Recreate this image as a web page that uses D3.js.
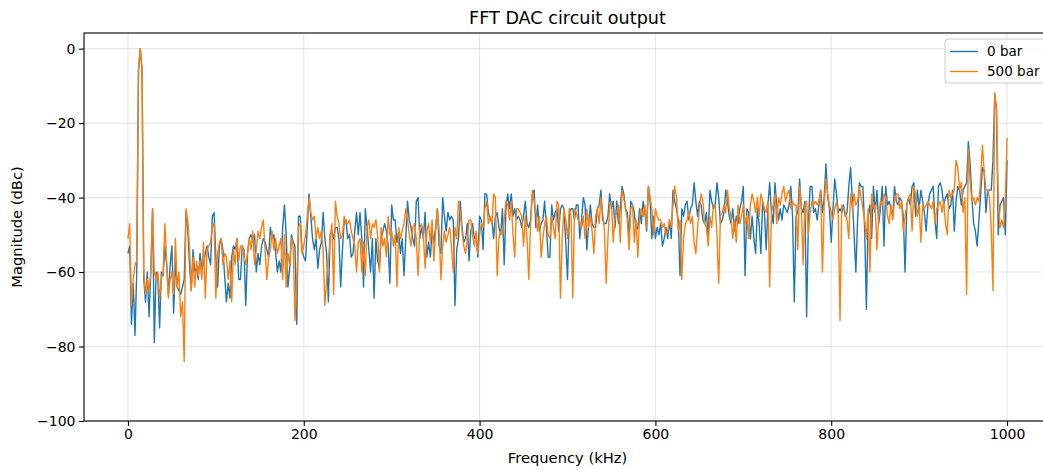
<!DOCTYPE html>
<html>
<head>
<meta charset="utf-8">
<script src="https://cdn.jsdelivr.net/npm/d3@7"></script>
<style>
  html, body { margin: 0; padding: 0; background: #fff; }
  svg { display: block; font-family: "DejaVu Sans", sans-serif; }
</style>
</head>
<body>
<svg id="chart" width="1043" height="470"></svg>
<script>
// FFT bins: 0 to 1000 kHz in 2 kHz steps
const binStepKHz = 2;

// Magnitude (dBc) at 0 bar
const mag0bar = [
  // 0–80 kHz
  -55,-53,-74,-63,-77,-60,-6,0,-6,-62,-68,-60,-72,-60,-43,-79,-60,-61,-75,-60,
  -61,-53,-58,-66,-58,-53,-71,-57,-64,-65,-66,-64,-62,-44,-48,-58,-65,-54,-60,-59,-62,
  // 82–172 kHz
  -55,-59,-58,-55,-53,-56,-58,-45,-44,-56,-64,-53,-51,-54,-61,-68,-63,-67,-56,-53,
  -54,-51,-62,-62,-53,-54,-69,-55,-51,-50,-52,-50,-60,-55,-58,-53,-51,-52,-54,-56,
  -48,-51,-50,-55,-60,-57,
  // 174–262 kHz
  -60,-48,-42,-50,-64,-59,-50,-52,-53,-74,-45,-45,-54,-56,-57,-48,-39,-45,-51,-54,
  -51,-59,-54,-52,-44,-51,-55,-68,-50,-49,-51,-48,-48,-51,-64,-54,-46,-46,-51,-50,
  -56,-55,-49,-44,-50,
  // 264–354 kHz
  -44,-51,-64,-43,-48,-54,-60,-51,-67,-51,-57,-59,-51,-49,-47,-49,-53,-63,-42,-46,
  -46,-52,-49,-55,-51,-61,-51,-41,-46,-48,-51,-53,-41,-40,-51,-48,-51,-44,-56,-52,
  -56,-49,-52,-48,-43,-53,
  // 356–444 kHz
  -55,-40,-45,-49,-44,-46,-45,-46,-69,-54,-51,-41,-48,-52,-51,-47,-57,-49,-47,-51,
  -50,-56,-45,-46,-54,-39,-39,-44,-46,-46,-51,-45,-44,-48,-50,-43,-58,-43,-39,-43,
  -39,-45,-43,-46,-45,
  // 446–536 kHz
  -46,-48,-45,-41,-47,-48,-46,-39,-38,-48,-42,-49,-47,-46,-41,-48,-56,-56,-42,-46,
  -44,-43,-49,-43,-42,-43,-52,-62,-45,-43,-43,-46,-42,-42,-51,-46,-40,-42,-54,-47,
  -42,-47,-48,-48,-43,-42,
  // 538–626 kHz
  -38,-46,-47,-47,-45,-39,-43,-41,-48,-41,-47,-43,-37,-39,-43,-44,-50,-41,-42,-44,
  -49,-48,-43,-47,-41,-44,-49,-37,-41,-51,-45,-51,-48,-50,-47,-53,-51,-48,-51,-46,
  -51,-38,-41,-43,-46,
  // 628–718 kHz
  -61,-43,-45,-42,-41,-46,-43,-42,-36,-41,-45,-41,-42,-46,-47,-44,-51,-38,-41,-43,
  -42,-36,-40,-47,-46,-44,-38,-41,-45,-47,-43,-49,-45,-47,-43,-41,-37,-61,-43,-44,
  -51,-45,-51,-55,-43,-47,
  // 720–810 kHz
  -55,-41,-44,-54,-42,-36,-44,-47,-36,-42,-46,-43,-46,-42,-43,-44,-42,-37,-45,-68,
  -45,-44,-35,-43,-44,-41,-72,-47,-37,-37,-44,-43,-46,-42,-38,-44,-40,-31,-40,-43,
  -52,-43,-35,-39,-44,-43,
  // 812–900 kHz
  -44,-42,-45,-44,-37,-32,-40,-50,-60,-46,-36,-37,-37,-48,-70,-45,-42,-51,-37,-44,
  -38,-47,-43,-37,-53,-37,-42,-41,-43,-45,-37,-41,-42,-40,-41,-45,-60,-42,-40,-42,
  -37,-36,-45,-38,-43,
  // 902–1000 kHz
  -38,-41,-44,-49,-42,-39,-38,-37,-46,-51,-37,-36,-38,-42,-40,-39,-43,-42,-38,-49,
  -41,-37,-38,-42,-38,-37,-36,-25,-31,-40,-47,-49,-53,-46,-39,-32,-33,-44,-38,-38,
  -38,-30,-12,-16,-50,-42,-41,-40,-50,-30
];

// Magnitude (dBc) at 500 bar
const mag500bar = [
  // 0–80 kHz
  -51,-47,-69,-62,-58,-57,-5,0,-5,-60,-66,-62,-65,-60,-43,-60,-62,-60,-67,-62,
  -60,-47,-57,-67,-62,-60,-66,-51,-64,-60,-72,-68,-84,-43,-46,-53,-65,-56,-64,-57,-61,
  // 82–172 kHz
  -57,-62,-52,-67,-54,-53,-52,-48,-47,-67,-55,-52,-51,-58,-55,-56,-62,-57,-68,-54,
  -58,-51,-57,-53,-53,-56,-58,-55,-51,-54,-49,-58,-54,-49,-51,-48,-46,-54,-62,-56,
  -54,-49,-54,-51,-55,-53,
  // 174–262 kHz
  -51,-62,-50,-64,-55,-58,-51,-53,-73,-64,-48,-47,-55,-53,-50,-45,-40,-44,-46,-45,
  -51,-48,-51,-49,-54,-69,-62,-57,-51,-47,-66,-41,-45,-47,-51,-50,-45,-47,-47,-46,
  -49,-51,-53,-60,-52,
  // 264–354 kHz
  -51,-60,-52,-61,-48,-46,-51,-47,-48,-46,-50,-60,-48,-53,-51,-56,-45,-50,-49,-53,
  -50,-64,-48,-51,-49,-47,-43,-46,-50,-53,-48,-47,-51,-61,-48,-47,-50,-59,-49,-47,
  -52,-46,-57,-49,-43,-49,
  // 356–444 kHz
  -62,-53,-49,-52,-50,-48,-53,-60,-48,-51,-41,-44,-49,-53,-55,-51,-46,-46,-50,-53,
  -49,-55,-50,-47,-48,-43,-41,-47,-45,-47,-39,-40,-61,-51,-49,-50,-46,-41,-42,-46,
  -41,-50,-56,-43,-43,
  // 446–536 kHz
  -44,-45,-53,-45,-51,-62,-47,-38,-41,-44,-49,-45,-56,-51,-47,-45,-50,-51,-45,-48,
  -51,-41,-42,-67,-51,-43,-46,-51,-43,-45,-67,-43,-44,-46,-47,-48,-45,-51,-43,-48,
  -45,-49,-55,-45,-43,-47,
  // 538–626 kHz
  -40,-44,-49,-63,-51,-42,-41,-52,-45,-44,-42,-52,-38,-40,-43,-46,-54,-43,-42,-52,
  -46,-56,-45,-43,-45,-42,-48,-37,-40,-43,-50,-43,-45,-46,-46,-48,-47,-50,-49,-46,
  -48,-42,-37,-40,-49,
  // 628–718 kHz
  -46,-62,-51,-47,-46,-44,-47,-45,-52,-55,-48,-43,-39,-41,-47,-48,-53,-45,-48,-42,
  -42,-50,-63,-45,-44,-42,-44,-38,-43,-45,-51,-46,-52,-42,-47,-45,-42,-47,-45,-51,
  -42,-39,-41,-44,-40,-45,
  // 720–810 kHz
  -39,-41,-43,-44,-41,-64,-44,-42,-39,-47,-40,-42,-39,-37,-41,-39,-38,-43,-41,-42,
  -42,-54,-37,-42,-58,-42,-41,-50,-44,-41,-42,-41,-42,-41,-38,-60,-42,-35,-39,-42,
  -44,-46,-43,-41,-45,-73,
  // 812–900 kHz
  -42,-43,-44,-46,-51,-39,-43,-39,-42,-41,-37,-40,-43,-46,-51,-43,-60,-39,-43,-42,
  -54,-45,-41,-42,-39,-40,-45,-47,-42,-46,-41,-39,-39,-43,-41,-49,-45,-42,-40,-39,
  -49,-37,-39,-45,-42,
  // 902–1000 kHz
  -52,-42,-43,-42,-41,-42,-43,-41,-47,-43,-42,-41,-44,-41,-47,-50,-38,-40,-39,-38,
  -30,-32,-38,-36,-44,-40,-66,-27,-36,-41,-40,-42,-40,-41,-35,-26,-33,-38,-38,-40,
  -48,-65,-12,-17,-40,-48,-46,-48,-41,-24
];

const seriesNames = ["0 bar", "500 bar"];
const seriesColors = ["#1f77b4", "#ff7f0e"];
const xTicks = [0, 200, 400, 600, 800, 1000];
const yTicks = [0, -20, -40, -60, -80, -100];

const svg = d3.select("#chart");
const margin = { left: 84, top: 33, right: 1051, bottom: 421 };

const x = d3.scaleLinear().domain([-50, 1050]).range([margin.left, margin.right]);
const y = d3.scaleLinear().domain([-100, 4.2]).range([margin.bottom, margin.top]);

// clip region for the plot area
svg.append("defs").append("clipPath").attr("id", "plot-clip")
  .append("rect")
  .attr("x", margin.left).attr("y", margin.top)
  .attr("width", margin.right - margin.left)
  .attr("height", margin.bottom - margin.top);

// grid
const grid = svg.append("g");
grid.selectAll("line.gx").data(xTicks).join("line")
  .attr("x1", d => x(d)).attr("x2", d => x(d))
  .attr("y1", margin.top).attr("y2", margin.bottom)
  .attr("stroke", "#b0b0b0").attr("stroke-opacity", 0.3).attr("stroke-width", 1.1);
grid.selectAll("line.gy").data(yTicks).join("line")
  .attr("y1", d => y(d)).attr("y2", d => y(d))
  .attr("x1", margin.left).attr("x2", margin.right)
  .attr("stroke", "#b0b0b0").attr("stroke-opacity", 0.3).attr("stroke-width", 1.1);

// series
const series = [mag0bar, mag500bar];
const line = d3.line()
  .x((d, i) => x(i * binStepKHz))
  .y(d => y(d));

const plot = svg.append("g").attr("clip-path", "url(#plot-clip)");
series.forEach((vals, k) => {
  plot.append("path")
    .datum(vals)
    .attr("fill", "none")
    .attr("stroke", seriesColors[k])
    .attr("stroke-width", 1.4)
    .attr("stroke-linejoin", "round")
    .attr("d", line);
});

// axes
const fmt = d => d < 0 ? "\u2212" + Math.abs(d) : String(d);
const xAxis = svg.append("g")
  .attr("transform", `translate(0,${margin.bottom})`)
  .call(d3.axisBottom(x).tickValues(xTicks).tickFormat(fmt).tickSize(4.9).tickSizeOuter(0));
const yAxis = svg.append("g")
  .attr("transform", `translate(${margin.left},0)`)
  .call(d3.axisLeft(y).tickValues(yTicks).tickFormat(fmt).tickSize(4.9).tickSizeOuter(0));

[xAxis, yAxis].forEach(g => {
  g.select(".domain").remove();
  g.selectAll(".tick line").attr("stroke", "#000").attr("stroke-width", 1.1);
  g.selectAll(".tick text").attr("fill", "#000")
    .style("font-size", "14px").style("font-family", "'DejaVu Sans', sans-serif");
});
xAxis.selectAll(".tick text").attr("dy", "0.71em").attr("y", 8.5);
yAxis.selectAll(".tick text").attr("x", -8.5);

// spines
svg.append("rect")
  .attr("x", margin.left).attr("y", margin.top)
  .attr("width", margin.right - margin.left)
  .attr("height", margin.bottom - margin.top)
  .attr("fill", "none").attr("stroke", "#000").attr("stroke-width", 1.1);

// title and axis labels
svg.append("text")
  .attr("x", (margin.left + margin.right) / 2).attr("y", 24)
  .attr("text-anchor", "middle")
  .style("font-size", "17.6px")
  .text("FFT DAC circuit output");

svg.append("text")
  .attr("x", (margin.left + margin.right) / 2).attr("y", 463)
  .attr("text-anchor", "middle")
  .style("font-size", "14.7px")
  .text("Frequency (kHz)");

svg.append("text")
  .attr("transform", `translate(22,${(margin.top + margin.bottom) / 2}) rotate(-90)`)
  .attr("text-anchor", "middle")
  .style("font-size", "14.7px")
  .text("Magnitude (dBc)");

// legend
const legend = svg.append("g").attr("transform", "translate(945,39)");
legend.append("rect")
  .attr("x", 0).attr("y", 0).attr("width", 100).attr("height", 44)
  .attr("rx", 3).attr("ry", 3)
  .attr("fill", "#fff").attr("fill-opacity", 0.8)
  .attr("stroke", "#cccccc").attr("stroke-width", 1);
seriesNames.forEach((name, k) => {
  const cy = 12.5 + k * 20;
  legend.append("line")
    .attr("x1", 5).attr("x2", 33).attr("y1", cy).attr("y2", cy)
    .attr("stroke", seriesColors[k]).attr("stroke-width", 1.4);
  legend.append("text")
    .attr("x", 42).attr("y", cy).attr("dy", "0.35em")
    .style("font-size", "13.5px")
    .text(name);
});
</script>
</body>
</html>
